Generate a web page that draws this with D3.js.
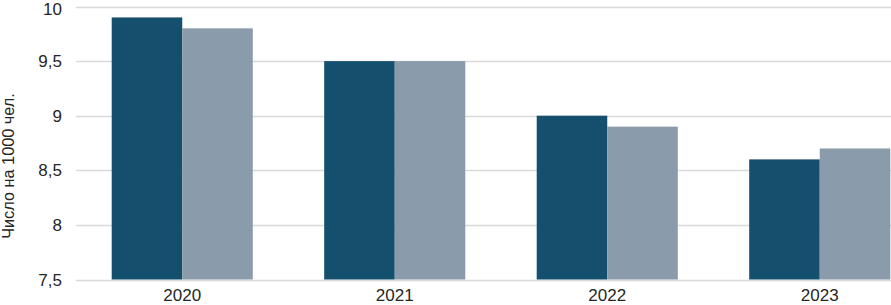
<!DOCTYPE html>
<html>
<head>
<meta charset="utf-8">
<script src="https://cdn.jsdelivr.net/npm/d3@7"></script>
<style>
  body { margin: 0; background: #fff; overflow: hidden; }
  svg { display: block; font-family: "Liberation Sans", Arial, sans-serif; }
</style>
</head>
<body>
<div id="chart"></div>
<script>
// data
const years = ["2020", "2021", "2022", "2023"];
const seriesA = [9.9, 9.5, 9.0, 8.6];
const seriesB = [9.8, 9.5, 8.9, 8.7];
const yTicks = [7.5, 8, 8.5, 9, 9.5, 10];
const yTitle = "Число на 1000 чел.";

const width = 891, height = 305;
const plotLeft = 76, plotRight = 926; // plot runs past the right edge, as in the reference
const plotTop = 6.5, plotBottom = 279.5;

const svg = d3.select("#chart").append("svg").attr("width", width).attr("height", height);

const x0 = d3.scaleBand().domain(years).range([plotLeft, plotRight])
  .paddingInner(0.336).paddingOuter(0.168);
const x1 = d3.scaleBand().domain(["a", "b"]).range([0, x0.bandwidth()]);
const y = d3.scaleLinear().domain([7.5, 10]).range([plotBottom, plotTop]);

// gridlines
svg.append("g").selectAll("line")
  .data(yTicks)
  .enter()
  .append("line")
  .attr("x1", plotLeft)
  .attr("x2", width)
  .attr("y1", (d) => Math.round(y(d)) + 0.5)
  .attr("y2", (d) => Math.round(y(d)) + 0.5)
  .attr("stroke", "#d9d9d9")
  .attr("stroke-width", 1.5);

// y labels (top one nudged so it stays inside the frame)
svg.append("g").selectAll("text")
  .data(yTicks)
  .enter()
  .append("text")
  .attr("x", 62)
  .attr("y", (d) => Math.max(y(d) + 6, 14.5))
  .attr("text-anchor", "end")
  .attr("font-size", 17)
  .attr("fill", "#262626")
  .text((d) => String(d).replace(".", ","));

// bars
const rows = years.map((yr, i) => ({ year: yr, a: seriesA[i], b: seriesB[i] }));
const groups = svg.append("g").selectAll("g")
  .data(rows)
  .enter()
  .append("g")
  .attr("transform", (d) => `translate(${x0(d.year)},0)`);

groups.append("rect")
  .attr("x", x1("a"))
  .attr("y", (d) => y(d.a))
  .attr("width", x1.bandwidth())
  .attr("height", (d) => y(7.5) - y(d.a))
  .attr("fill", "#14506d");

groups.append("rect")
  .attr("x", x1("b"))
  .attr("y", (d) => y(d.b))
  .attr("width", x1.bandwidth())
  .attr("height", (d) => y(7.5) - y(d.b))
  .attr("fill", "#8a9bab");

// x labels
svg.append("g").selectAll("text")
  .data(years)
  .enter()
  .append("text")
  .attr("x", (d) => x0(d) + x0.bandwidth() / 2)
  .attr("y", 301)
  .attr("text-anchor", "middle")
  .attr("font-size", 17)
  .attr("fill", "#262626")
  .text((d) => d);

// y title
svg.append("text")
  .attr("transform", "translate(14,166) rotate(-90)")
  .attr("text-anchor", "middle")
  .attr("font-size", 16.3)
  .attr("fill", "#262626")
  .text(yTitle);
</script>
</body>
</html>
